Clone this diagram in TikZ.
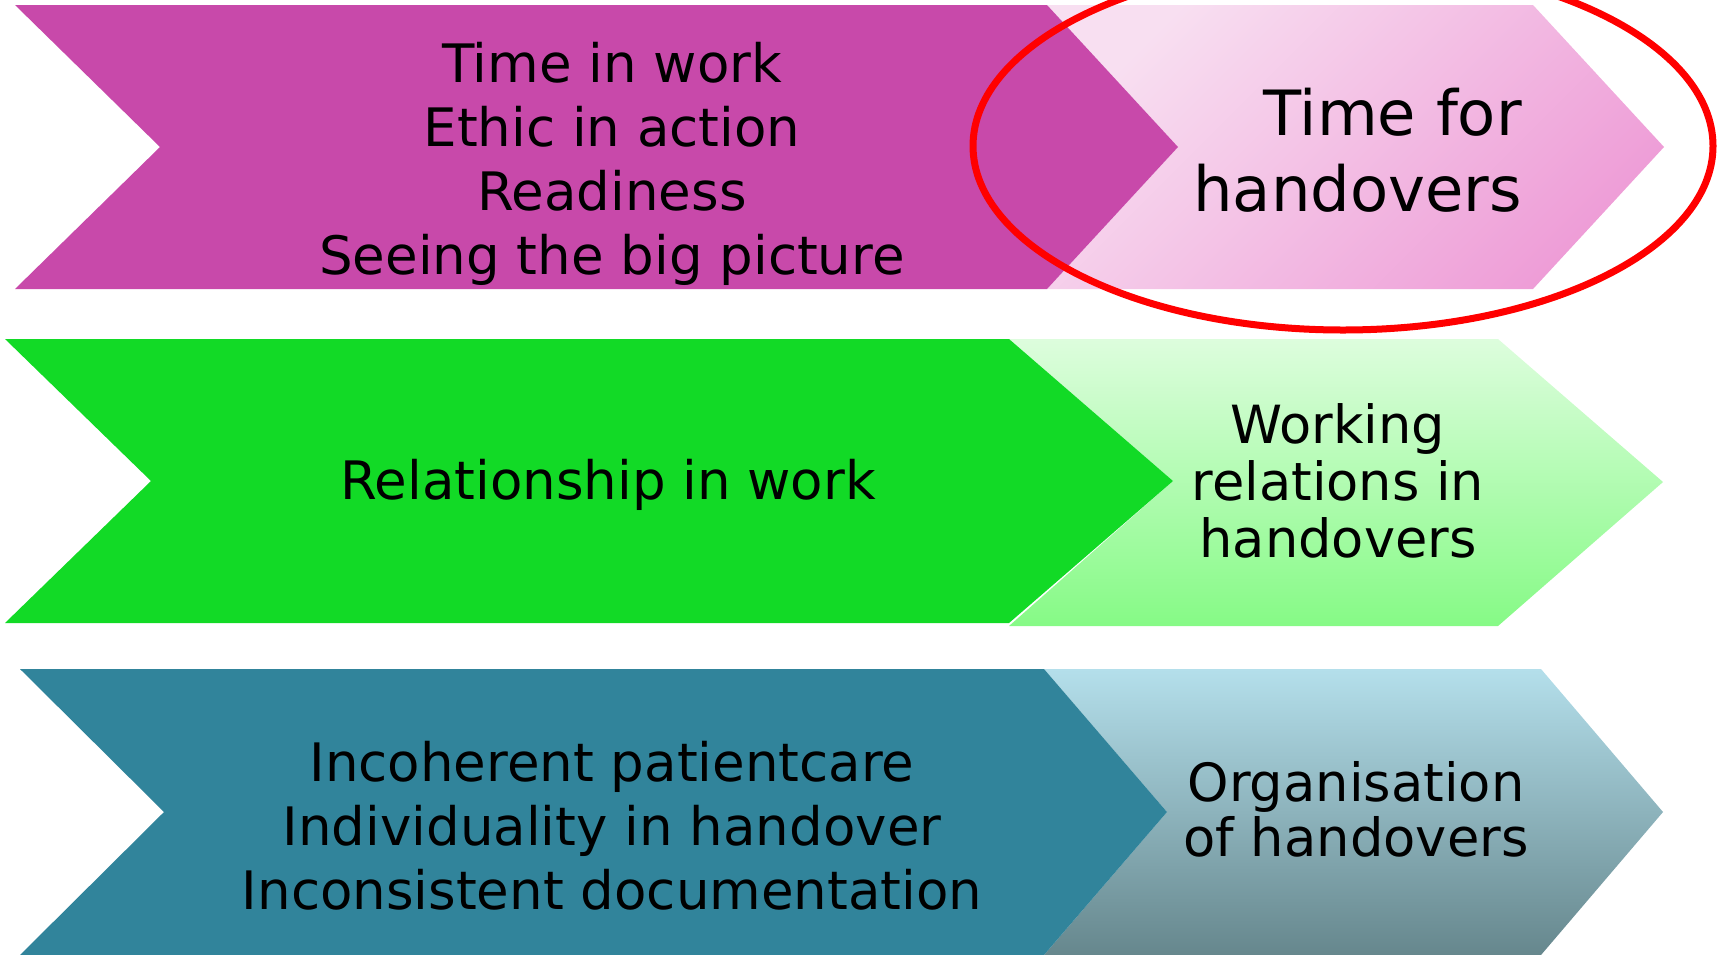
\documentclass[tikz,border=0pt]{standalone}
\usepackage{fontspec}
\setmainfont{DejaVu Sans}
\definecolor{plumdark}{HTML}{C849AA}
\definecolor{plumtop}{HTML}{F8DFF1}
\definecolor{plumbot}{HTML}{EE9DD7}
\definecolor{greendark}{HTML}{12DA26}
\definecolor{greentop}{HTML}{DDFDDD}
\definecolor{greenbot}{HTML}{86FA86}
\definecolor{tealdark}{HTML}{31849B}
\definecolor{tealtop}{HTML}{B4DFEB}
\definecolor{tealbot}{HTML}{66878D}
\definecolor{ringred}{HTML}{FF0000}
\begin{document}
\begin{tikzpicture}[x=1pt, y=-1pt,
      every node/.append style={inner sep=0pt, text=black},
      cause/.style={align=center, anchor=base, font=\fontsize{53}{64}\selectfont},
      theme/.style={align=center, anchor=base, font=\fontsize{52.6}{57}\selectfont},
      ring/.style={draw=ringred, line width=7pt}]

     \clip (0,0) rectangle (1723,954);

     % row 1
     \shade[top color=plumtop, bottom color=plumbot, shading angle=45]
        (1047,5) -- (1533,5) -- (1664,147) -- (1533,289) -- (1047,289) -- (1178,147) -- cycle;
     \fill[plumdark] (15,5) -- (1047,5) -- (1178,147) -- (1047,289) -- (15,289) -- (160,147) -- cycle;

     % row 2
     \shade[top color=greentop, bottom color=greenbot]
        (1009,339) -- (1498,339) -- (1663,482) -- (1498,626) -- (1009,626) -- (1173,481) -- cycle;
     \fill[greendark] (5,339) -- (1009,339) -- (1173,481) -- (1009,623) -- (5,623) -- (151,481) -- cycle;

     % row 3
     \shade[top color=tealtop, bottom color=tealbot]
        (1044,669) -- (1541,669) -- (1663,812) -- (1541,955) -- (1044,955) -- (1167,812) -- cycle;
     \fill[tealdark] (20,669) -- (1044,669) -- (1167,812) -- (1044,955) -- (20,955) -- (164,812) -- cycle;

     % texts, anchored at the baseline of their last line
     \node [cause] (time) at (612,274)
        {Time in work\\Ethic in action\\Readiness\\Seeing the big picture};
     \node [cause] (rel) at (608,499) {Relationship in work};
     \node [cause] (inco) at (612,909)
        {Incoherent patientcare\\Individuality in handover\\Inconsistent documentation};

     \node [theme, align=right, anchor=base east, font=\fontsize{62.4}{76}\selectfont]
        (timefor) at (1522,211) {Time for\\handovers};
     \node [theme] (work) at (1338,557) {Working\\relations in\\handovers};
     \node [theme, font=\fontsize{52.7}{55}\selectfont] (org) at (1356,856)
        {Organisation\\of handovers};

     \draw[ring] (1343,146) ellipse [x radius=370, y radius=184];
\end{tikzpicture}
\end{document}
